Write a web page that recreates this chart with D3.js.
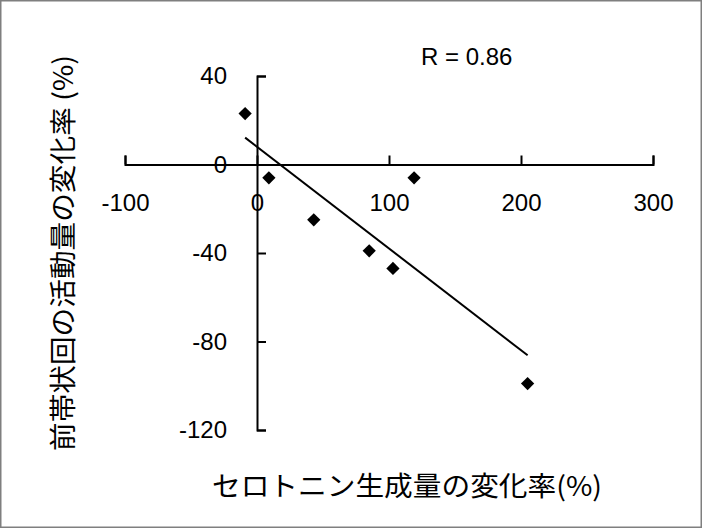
<!DOCTYPE html>
<html>
<head>
<meta charset="utf-8">
<script src="https://cdn.jsdelivr.net/npm/d3@7"></script>
<style>
  html, body { margin: 0; padding: 0; background: #fff; }
  svg { display: block; }
</style>
</head>
<body>
<svg id="chart" width="702" height="528"></svg>
<script>
// ---- data ----
const serotoninChange = [-9, 9, 43, 85, 103, 119, 205];     // x (%)
const accActivityChange = [23, -6, -25, -39, -47, -6, -99]; // y (%)
const xTickValues = [-100, 0, 100, 200, 300];
const yTickValues = [-120, -80, -40, 0, 40];
const xTitle = "セロトニン生成量の変化率(%)";
const yTitle = "前帯状回の活動量の変化率 (%)";
const rLabel = "R = 0.86";

const svg = d3.select("#chart");
const W = 702, H = 528;
const numFont = "'Liberation Sans', Arial, sans-serif";
const cjkFont = "'Noto Sans CJK JP', 'Noto Sans', sans-serif";

// outer frame
svg.append("rect")
  .attr("x", 0.75).attr("y", 0.75)
  .attr("width", W - 1.5).attr("height", H - 1.5)
  .attr("fill", "#fff").attr("stroke", "#7f7f7f").attr("stroke-width", 1.5);

const x = d3.scaleLinear().domain([-100, 300]).range([125, 653]);
const y = d3.scaleLinear().domain([40, -120]).range([76, 430]);

// x axis (crosses at y = 0)
const xAxis = d3.axisBottom(x)
  .tickValues(xTickValues)
  .tickSize(-9)
  .tickSizeOuter(-9)
  .tickPadding(29)
  .tickFormat(d3.format("d"));
const gx = svg.append("g")
  .attr("transform", `translate(0,${y(0)})`)
  .call(xAxis);

// y axis (crosses at x = 0)
const yAxis = d3.axisLeft(y)
  .tickValues(yTickValues)
  .tickSize(-9)
  .tickSizeOuter(-9)
  .tickPadding(30)
  .tickFormat(d3.format("d"));
const gy = svg.append("g")
  .attr("transform", `translate(${x(0)},0)`)
  .call(yAxis);

[gx, gy].forEach(g => {
  g.selectAll("path.domain").attr("stroke", "#000").attr("stroke-width", 2);
  g.selectAll(".tick line").attr("stroke", "#000").attr("stroke-width", 2);
  g.selectAll(".tick text")
    .attr("fill", "#000")
    .style("font-family", numFont)
    .style("font-size", "24px")
    .text(function(d){ return d < 0 ? "-" + Math.abs(d) : d; });
});

// least-squares trendline
const pts = serotoninChange.map((v, i) => [v, accActivityChange[i]]);
const mx = d3.mean(pts, d => d[0]), my = d3.mean(pts, d => d[1]);
const sxy = d3.sum(pts, d => (d[0] - mx) * (d[1] - my));
const sxx = d3.sum(pts, d => (d[0] - mx) ** 2);
const slope = sxy / sxx, intercept = my - slope * mx;
const [x0, x1] = d3.extent(serotoninChange);
svg.append("line")
  .attr("x1", x(x0)).attr("y1", y(slope * x0 + intercept))
  .attr("x2", x(x1)).attr("y2", y(slope * x1 + intercept))
  .attr("stroke", "#000").attr("stroke-width", 2);

// diamond markers
const diamond = d3.symbol().type(d3.symbolSquare).size(88);
svg.append("g").selectAll("path")
  .data(pts)
  .join("path")
  .attr("d", diamond)
  .attr("transform", d => `translate(${x(d[0])},${y(d[1])}) rotate(45)`)
  .attr("fill", "#000");

// R label
svg.append("text")
  .attr("x", 421).attr("y", 65)
  .style("font-family", numFont).style("font-size", "24px")
  .attr("fill", "#000")
  .text(rLabel);

// axis titles
svg.append("text")
  .attr("x", 407).attr("y", 496)
  .attr("text-anchor", "middle")
  .attr("textLength", 390).attr("lengthAdjust", "spacingAndGlyphs")
  .style("font-family", cjkFont).style("font-size", "27px")
  .attr("fill", "#000")
  .text(xTitle);

svg.append("text")
  .attr("transform", "translate(73,253) rotate(-90)")
  .attr("text-anchor", "middle")
  .attr("textLength", 396).attr("lengthAdjust", "spacingAndGlyphs")
  .style("font-family", cjkFont).style("font-size", "27px")
  .attr("fill", "#000")
  .text(yTitle);
</script>
</body>
</html>
